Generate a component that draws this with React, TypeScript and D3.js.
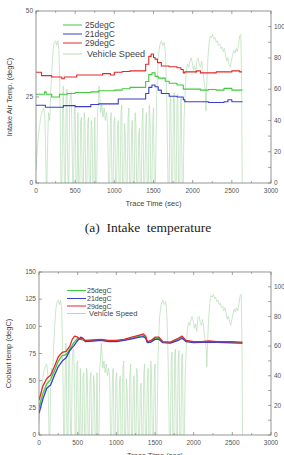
import React from 'react';
import * as d3 from 'd3';

type P = [number, number];

const timeTicks = [0, 500, 1000, 1500, 2000, 2500, 3000];
const timeMinor = [250, 750, 1250, 1750, 2250, 2750];
const speedTicks = [0, 10, 20, 30, 40, 50, 60, 70, 80, 90, 100];
const speedLabels = [0, 20, 40, 60, 80, 100];
const intakeTicks = [0, 25, 50];
const coolantTicks = [0, 25, 50, 75, 100, 125, 150];
const seriesNames = ['25degC', '21degC', '29degC', 'Vehicle Speed'];

const vehicleSpeed: P[] = [
  [0, 8], [15, 20], [30, 30], [45, 36], [60, 42], [80, 46], [100, 48], [115, 40], [130, 0], [140, 0],
  [150, 30], [160, 45], [175, 40], [190, 60], [205, 75], [220, 86], [235, 90], [250, 91], [265, 88],
  [280, 91], [292, 85], [300, 70], [310, 40], [318, 0], [330, 0], [340, 45], [348, 62], [355, 40],
  [362, 0], [375, 0], [385, 55], [395, 60], [402, 20], [410, 0], [420, 0], [430, 50], [440, 57],
  [450, 58], [460, 30], [468, 0], [480, 0], [490, 48], [500, 50], [510, 0], [525, 0], [535, 45],
  [545, 0], [560, 0], [570, 40], [580, 42], [590, 0], [605, 0], [615, 45], [625, 40], [635, 0],
  [650, 0], [660, 38], [670, 42], [680, 0], [695, 0], [705, 40], [715, 35], [725, 0], [740, 0],
  [750, 42], [760, 0], [775, 0], [785, 45], [795, 50], [805, 62], [815, 55], [825, 45], [840, 50],
  [855, 42], [870, 48], [885, 40], [900, 45], [915, 38], [925, 0], [940, 0], [950, 40], [960, 45],
  [970, 0], [985, 0], [995, 38], [1005, 42], [1015, 0], [1030, 0], [1040, 35], [1050, 40], [1060, 0],
  [1075, 0], [1085, 45], [1095, 50], [1105, 0], [1120, 0], [1130, 38], [1140, 30], [1150, 0],
  [1165, 0], [1175, 42], [1185, 48], [1195, 0], [1210, 0], [1220, 35], [1230, 40], [1240, 0],
  [1255, 0], [1265, 45], [1275, 38], [1285, 0], [1300, 0], [1310, 30], [1320, 35], [1330, 0],
  [1345, 0], [1355, 40], [1365, 48], [1375, 0], [1390, 0], [1400, 35], [1410, 45], [1420, 0],
  [1435, 0], [1445, 50], [1455, 42], [1465, 0], [1480, 0], [1490, 38], [1500, 48], [1510, 0],
  [1525, 0], [1540, 55], [1560, 80], [1580, 88], [1600, 91], [1620, 88], [1640, 90], [1655, 80],
  [1670, 50], [1685, 0], [1700, 0], [1710, 50], [1720, 56], [1730, 0], [1745, 0], [1755, 55],
  [1765, 58], [1775, 0], [1790, 0], [1800, 50], [1810, 57], [1820, 0], [1835, 0], [1845, 52],
  [1855, 55], [1865, 0], [1880, 0], [1890, 40], [1905, 60], [1920, 72], [1935, 76], [1950, 74],
  [1965, 78], [1980, 80], [1995, 77], [2010, 72], [2025, 75], [2040, 70], [2055, 79], [2070, 80],
  [2085, 76], [2100, 74], [2115, 78], [2130, 72], [2145, 65], [2160, 60], [2170, 46], [2180, 62],
  [2195, 80], [2210, 90], [2225, 94], [2240, 93], [2255, 95], [2270, 92], [2285, 93], [2300, 90],
  [2315, 91], [2330, 88], [2345, 89], [2360, 86], [2375, 87], [2390, 84], [2405, 86], [2420, 82],
  [2435, 78], [2450, 80], [2465, 76], [2480, 74], [2495, 78], [2510, 82], [2525, 85], [2540, 83],
  [2555, 86], [2570, 84], [2585, 88], [2600, 94], [2615, 95], [2625, 60], [2632, 0],
];

const intake25: P[] = [
  [0, 25.8], [100, 25.8], [110, 26.5], [130, 25.8], [200, 25.0], [280, 25.0], [300, 25.8], [400, 26.0],
  [500, 26.3], [700, 26.5], [800, 26.8], [1000, 27.0], [1100, 27.4], [1200, 27.8], [1380, 27.8],
  [1400, 29.5], [1440, 31.5], [1480, 32.0], [1520, 31.0], [1560, 30.5], [1600, 30.5], [1650, 29.6],
  [1700, 29.0], [1800, 28.5], [1850, 28.5], [1880, 27.3], [2000, 27.3], [2100, 27.0], [2200, 27.2],
  [2300, 27.0], [2400, 27.5], [2500, 27.0], [2630, 27.2],
];
const intake21: P[] = [
  [0, 22.6], [100, 22.6], [120, 22.0], [300, 22.0], [350, 22.5], [500, 22.2], [700, 22.8], [800, 23.0],
  [1000, 23.0], [1050, 24.4], [1380, 24.4], [1400, 26.0], [1440, 27.8], [1480, 28.5], [1520, 28.0],
  [1560, 27.0], [1600, 26.0], [1700, 25.2], [1800, 25.0], [1880, 24.2], [1900, 23.6], [2200, 23.4],
  [2400, 23.6], [2450, 24.2], [2500, 23.6], [2630, 23.8],
];
const intake29: P[] = [
  [0, 32.2], [60, 32.2], [70, 31.2], [150, 31.2], [200, 30.8], [300, 30.8], [330, 30.3], [360, 30.8],
  [500, 30.8], [520, 31.4], [800, 31.4], [850, 31.8], [950, 31.4], [1000, 32.2], [1100, 32.4],
  [1200, 32.6], [1380, 32.6], [1400, 34.5], [1440, 36.8], [1470, 37.5], [1500, 36.5], [1520, 36.0],
  [1550, 35.0], [1600, 34.0], [1700, 33.8], [1800, 33.5], [1850, 33.0], [1880, 32.0], [1900, 32.3],
  [2050, 32.6], [2100, 32.0], [2300, 32.3], [2500, 32.6], [2600, 32.3], [2630, 32.3],
];

const coolant29: P[] = [
  [0, 32], [50, 45], [100, 52], [150, 55], [200, 63], [250, 72], [300, 76], [350, 77], [400, 82],
  [430, 88], [460, 91], [500, 90], [530, 88], [560, 89], [600, 87], [700, 87.5], [800, 88], [900, 87],
  [1000, 87], [1100, 88], [1200, 90], [1300, 92], [1350, 93], [1380, 91], [1400, 86], [1450, 87],
  [1500, 90], [1550, 90], [1600, 86], [1700, 85.5], [1800, 89], [1850, 91], [1900, 87], [2000, 86],
  [2100, 86], [2200, 86.5], [2300, 86], [2400, 86], [2500, 86], [2600, 85.5], [2630, 85.5],
];
const coolant25: P[] = [
  [0, 25], [50, 38], [100, 47], [150, 51], [200, 59], [250, 68], [300, 73], [350, 74], [400, 79],
  [450, 85], [500, 89], [540, 88], [600, 86.5], [700, 87], [800, 87.5], [900, 86.5], [1000, 86.5],
  [1100, 87.5], [1200, 89], [1300, 91], [1350, 91.5], [1380, 90], [1400, 85.5], [1450, 86],
  [1500, 89], [1550, 89], [1600, 85.5], [1700, 85], [1800, 88], [1850, 90], [1900, 86.5],
  [2000, 85.5], [2200, 86], [2400, 85.5], [2600, 85], [2630, 85],
];
const coolant21: P[] = [
  [0, 20], [50, 33], [100, 43], [150, 46], [200, 55], [250, 63], [300, 68], [350, 71], [400, 78],
  [450, 82], [500, 87], [540, 90], [570, 89], [600, 86], [700, 86.5], [800, 87], [900, 86], [1000, 86],
  [1100, 87], [1200, 88.5], [1300, 90], [1350, 90.5], [1380, 89], [1400, 85], [1450, 85.5],
  [1500, 88], [1550, 88], [1600, 85], [1700, 84.5], [1800, 87], [1850, 89], [1900, 86], [2000, 85],
  [2200, 85.5], [2400, 85], [2600, 84.5], [2630, 84.5],
];

const GREEN = '#3ccc3c';
const BLUE = '#3c3cd0';
const RED = '#e02828';
const SPEED = '#b4dcb4';
const AXIS = '#7a7a7a';
const TXT = '#555';
const FONT = 'Liberation Sans, Arial, sans-serif';

interface PanelProps {
  x0: number; x1: number; y0: number; y1: number;
  yMax: number; yTicks: number[];
  temps: { data: P[]; color: string; step: boolean; width: number }[];
  yTitle: string; yTitleX: number;
  legendX: number; legendYs: number[]; legendFont: number; legendTextX: number;
  xLabelBase: number; xTitleBase: number; id: string;
}

function Panel(p: PanelProps) {
  const x = d3.scaleLinear().domain([0, 3000]).range([p.x0, p.x1]);
  const y = d3.scaleLinear().domain([0, p.yMax]).range([p.y1, p.y0]);
  const ys = d3.scaleLinear().domain([0, 110]).range([p.y1, p.y0]);
  const speedLine = d3.line<P>().x(d => x(d[0])).y(d => ys(d[1]));
  const tl = d3.line<P>().x(d => x(d[0])).y(d => y(d[1]));
  const tlStep = d3.line<P>().x(d => x(d[0])).y(d => y(d[1])).curve(d3.curveStepAfter);
  const legendColors = [GREEN, BLUE, RED, SPEED];
  return (
    <g>
      <defs>
        <clipPath id={p.id}>
          <rect x={p.x0} y={p.y0} width={p.x1 - p.x0} height={p.y1 - p.y0} />
        </clipPath>
      </defs>
      <g clipPath={`url(#${p.id})`}>
        <path d={speedLine(vehicleSpeed) || ''} fill="none" stroke={SPEED} strokeWidth={0.7} />
        {p.temps.map((t, i) => (
          <path key={i} d={(t.step ? tlStep(t.data) : tl(t.data)) || ''} fill="none" stroke={t.color}
            strokeWidth={t.width} strokeLinejoin="round" />
        ))}
      </g>
      <rect x={p.x0} y={p.y0} width={p.x1 - p.x0} height={p.y1 - p.y0} fill="none" stroke={AXIS} strokeWidth={0.8} />
      {timeTicks.map(t => (
        <g key={'xt' + t}>
          <line x1={x(t)} x2={x(t)} y1={p.y1} y2={p.y1 - 3} stroke={AXIS} strokeWidth={0.7} />
          <line x1={x(t)} x2={x(t)} y1={p.y0} y2={p.y0 + 3} stroke={AXIS} strokeWidth={0.7} />
          <text x={x(t)} y={p.xLabelBase} textAnchor="middle" fontSize={6.5} fill={TXT} fontFamily={FONT}>{t}</text>
        </g>
      ))}
      {timeMinor.map(t => (
        <g key={'xm' + t}>
          <line x1={x(t)} x2={x(t)} y1={p.y1} y2={p.y1 - 2} stroke={AXIS} strokeWidth={0.6} />
          <line x1={x(t)} x2={x(t)} y1={p.y0} y2={p.y0 + 2} stroke={AXIS} strokeWidth={0.6} />
        </g>
      ))}
      {p.yTicks.map(v => (
        <g key={'yt' + v}>
          <line x1={p.x0} x2={p.x0 + 3} y1={y(v)} y2={y(v)} stroke={AXIS} strokeWidth={0.7} />
          <text x={p.x0 - 3} y={y(v) + 2.3} textAnchor="end" fontSize={6.5} fill={TXT} fontFamily={FONT}>{v}</text>
        </g>
      ))}
      {speedTicks.map(v => (
        <line key={'st' + v} x1={p.x1} x2={p.x1 - 3} y1={ys(v)} y2={ys(v)} stroke={AXIS} strokeWidth={0.7} />
      ))}
      {speedLabels.map(v => (
        <text key={'sl' + v} x={p.x1 + 3} y={ys(v) + 2.3} fontSize={6.5} fill={TXT} fontFamily={FONT}>{v}</text>
      ))}
      <text transform={`translate(${p.yTitleX},${(p.y0 + p.y1) / 2}) rotate(-90)`} textAnchor="middle"
        fontSize={7.5} fill="#444" fontFamily={FONT}>{p.yTitle}</text>
      <text x={(p.x0 + p.x1) / 2} y={p.xTitleBase} textAnchor="middle" fontSize={7.5} fill="#444" fontFamily={FONT}>Trace Time (sec)</text>
      {seriesNames.map((n, i) => (
        <g key={n}>
          <line x1={p.legendX} x2={p.legendX + 19} y1={p.legendYs[i]} y2={p.legendYs[i]} stroke={legendColors[i]} strokeWidth={1} />
          <text x={p.legendTextX + (i === 3 ? 2 : 0)} y={p.legendYs[i] + p.legendFont * 0.36} fontSize={p.legendFont + (i === 3 ? 0.6 : 0)}
            fill="#444" fontFamily={FONT}>{n}</text>
        </g>
      ))}
    </g>
  );
}

export default function App() {
  return (
    <svg width={284} height={455} style={{ position: 'absolute', left: 0, top: 0, background: '#fff' }}>
      <Panel id="ca" x0={36} x1={271} y0={11} y1={183} yMax={50} yTicks={intakeTicks}
        temps={[
          { data: intake25, color: GREEN, step: true, width: 1.1 },
          { data: intake21, color: BLUE, step: true, width: 1.1 },
          { data: intake29, color: RED, step: true, width: 1.1 },
        ]}
        yTitle="Intake Air Temp. (degC)" yTitleX={12}
        legendX={63} legendYs={[25, 34, 43, 54]} legendFont={8.5} legendTextX={85}
        xLabelBase={193} xTitleBase={206} />
      <text x={148} y={232} textAnchor="middle" fontSize={13.5} fill="#222"
        fontFamily="Liberation Serif, Times New Roman, serif" style={{ whiteSpace: 'pre' }}>{'(a)  Intake  temperature'}</text>
      <Panel id="cb" x0={39} x1={271} y0={272} y1={435} yMax={150} yTicks={coolantTicks}
        temps={[
          { data: coolant25, color: GREEN, step: false, width: 1.3 },
          { data: coolant21, color: BLUE, step: false, width: 1.3 },
          { data: coolant29, color: RED, step: false, width: 1.3 },
        ]}
        yTitle="Coolant temp (degC)" yTitleX={11}
        legendX={67} legendYs={[290.5, 298.5, 306, 313.5]} legendFont={7} legendTextX={87}
        xLabelBase={445} xTitleBase={458} />
    </svg>
  );
}
